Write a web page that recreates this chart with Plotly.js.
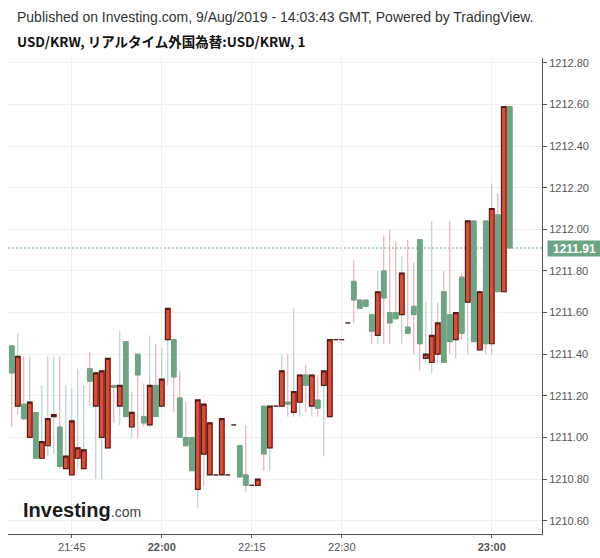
<!DOCTYPE html>
<html>
<head>
<meta charset="utf-8">
<script src="https://cdn.plot.ly/plotly-3.0.1.min.js"></script>
<style>
  html, body { margin: 0; padding: 0; background: #fff; }
  #chart { width: 600px; height: 558px; }
</style>
</head>
<body>
<div id="chart"></div>
<script>
// 1-minute bars (Korea time), minutes without trades are skipped like TradingView
const times = [
  '21:35','21:36','21:37','21:38','21:39','21:40','21:41','21:42','21:43','21:44',
  '21:45','21:46','21:47','21:48','21:49','21:50','21:51','21:52','21:53','21:54',
  '21:55','21:56','21:57','21:58','21:59','22:00','22:01','22:02','22:03','22:04',
  '22:05','22:06','22:07','22:08','22:09','22:10','22:11','22:12','22:13','22:14',
  '22:15','22:16','22:17','22:18','22:19','22:20','22:21','22:22','22:23','22:24',
  '22:25','22:26','22:27','22:28','22:29','22:30','22:31','22:32','22:34','22:35',
  '22:37','22:38','22:39','22:41','22:42','22:43','22:45','22:46','22:48','22:49',
  '22:50','22:51','22:52','22:53','22:54','22:55','22:56','22:57','22:58','22:59',
  '23:00','23:01','23:02','23:03'
];
const opens = [
  1211.44,1211.15,1211.16,1211.00,1211.12,1210.90,1210.96,1211.10,1211.05,1210.85,
  1210.82,1210.90,1210.85,1211.33,1211.15,1211.00,1210.95,1211.25,1211.15,1211.46,
  1211.05,1211.40,1211.10,1211.06,1211.25,1211.15,1211.47,1211.47,1211.19,1211.00,
  1211.00,1210.75,1210.92,1210.82,1210.82,1210.82,1210.82,1211.06,1210.96,1210.82,
  1210.77,1210.77,1211.15,1210.95,1211.15,1211.15,1211.17,1211.12,1211.17,1211.30,
  1211.15,1211.18,1211.25,1211.10,1211.47,1211.47,1211.55,1211.75,1211.66,1211.66,
  1211.59,1211.49,1211.80,1211.60,1211.60,1211.59,1211.53,1211.63,1211.95,1211.38,
  1211.36,1211.40,1211.70,1211.59,1211.47,1211.77,1211.65,1212.04,1211.42,1212.04,
  1211.45,1212.07,1211.70,1212.59
];
const highs = [
  1211.44,1211.50,1211.39,1211.39,1211.12,1211.25,1211.39,1211.39,1211.39,1211.25,
  1211.24,1211.33,1211.25,1211.41,1211.31,1211.32,1211.38,1211.25,1211.51,1211.46,
  1211.22,1211.40,1211.26,1211.49,1211.45,1211.43,1211.62,1211.47,1211.32,1211.17,
  1211.00,1211.18,1211.16,1211.07,1210.82,1211.09,1210.82,1211.06,1210.96,1211.06,
  1210.77,1210.80,1211.15,1211.15,1211.15,1211.40,1211.40,1211.62,1211.30,1211.35,
  1211.30,1211.30,1211.32,1211.47,1211.47,1211.47,1211.55,1211.85,1211.66,1211.66,
  1211.59,1211.80,1211.97,1212.00,1211.94,1211.87,1211.95,1211.84,1211.95,1211.65,
  1212.04,1211.65,1211.80,1212.04,1211.60,1211.79,1212.04,1212.04,1211.71,1212.04,
  1212.22,1212.17,1212.59,1212.59
];
const lows = [
  1211.05,1211.11,1211.08,1211.00,1210.90,1210.90,1210.91,1210.92,1210.85,1210.85,
  1210.82,1210.85,1210.85,1211.15,1210.80,1210.80,1210.95,1211.07,1211.06,1211.10,
  1211.00,1211.00,1211.05,1211.05,1211.10,1211.15,1211.25,1211.12,1211.00,1210.96,
  1210.84,1210.66,1210.77,1210.82,1210.82,1210.82,1210.82,1211.06,1210.81,1210.74,
  1210.77,1210.77,1210.84,1210.84,1211.15,1211.15,1211.10,1211.10,1211.10,1211.12,
  1211.10,1211.10,1210.91,1211.10,1211.47,1211.47,1211.55,1211.55,1211.62,1211.63,
  1211.45,1211.45,1211.45,1211.45,1211.57,1211.45,1211.50,1211.40,1211.32,1211.35,
  1211.31,1211.36,1211.36,1211.40,1211.38,1211.47,1211.40,1211.46,1211.42,1211.40,
  1211.40,1211.70,1211.70,1211.91
];
const closes = [
  1211.31,1211.39,1211.09,1211.17,1210.90,1210.98,1211.09,1211.11,1210.86,1210.91,
  1211.08,1210.95,1210.94,1211.27,1211.31,1211.32,1211.38,1211.24,1211.25,1211.10,
  1211.12,1211.30,1211.07,1211.25,1211.10,1211.28,1211.62,1211.29,1211.00,1210.96,
  1210.84,1211.18,1211.16,1211.07,1210.82,1211.09,1210.82,1211.06,1210.81,1210.77,
  1210.77,1210.80,1210.92,1211.15,1211.15,1211.32,1211.16,1211.22,1211.30,1211.25,
  1211.30,1211.14,1211.32,1211.47,1211.47,1211.47,1211.55,1211.66,1211.62,1211.63,
  1211.51,1211.70,1211.67,1211.55,1211.57,1211.79,1211.50,1211.59,1211.45,1211.40,
  1211.49,1211.55,1211.36,1211.46,1211.60,1211.50,1212.04,1211.46,1211.70,1211.45,
  1212.10,1211.70,1212.59,1211.91
];
const tickLabels = ['21:45','22:00','22:15','22:30','23:00'];
const boldTicks = ['22:00','23:00'];

const RED_FILL = '#dc4c37', RED_LINE = '#5c1a12', RED_WICK = '#a9c8cb';
const GREEN_FILL = '#6ba583', GREEN_WICK = '#e9a3ac';

const up = closes.map((c, i) => c >= opens[i]);
function pick(arr, want) { return arr.filter((_, i) => up[i] === want); }

function wickTrace(want, color) {
  const st = {line: {color: color, width: 1}, fillcolor: 'rgba(0,0,0,0)'};
  return {
    type: 'candlestick', x: pick(times, want),
    open: pick(opens, want), high: pick(highs, want),
    low: pick(lows, want), close: pick(closes, want),
    increasing: st, decreasing: st, whiskerwidth: 0,
    hoverinfo: 'skip', showlegend: false
  };
}
function bodyTrace(want, fill, line, lw) {
  const o = pick(opens, want), c = pick(closes, want);
  const st = {line: {color: line, width: lw}, fillcolor: fill};
  return {
    type: 'candlestick', x: pick(times, want),
    open: o, close: c,
    high: o.map((v, i) => Math.max(v, c[i])),
    low: o.map((v, i) => Math.min(v, c[i])),
    increasing: st, decreasing: st, whiskerwidth: 0,
    hoverinfo: 'skip', showlegend: false
  };
}

const data = [
  wickTrace(true, RED_WICK),
  wickTrace(false, GREEN_WICK),
  bodyTrace(false, GREEN_FILL, GREEN_FILL, 1),
  bodyTrace(true, RED_FILL, RED_LINE, 1.2)
];

const last = closes[closes.length - 1];
const FONT = 'Liberation Sans, Arial, sans-serif';

const layout = {
  width: 600, height: 558,
  margin: {l: 8, r: 58, t: 58, b: 24, pad: 0},
  paper_bgcolor: '#ffffff', plot_bgcolor: '#ffffff',
  showlegend: false, hovermode: false,
  boxgap: 0.22, boxgroupgap: 0,
  font: {family: FONT, size: 11, color: '#555'},
  xaxis: {
    type: 'category', categoryorder: 'array', categoryarray: times,
    range: [-0.63, 88.37],
    rangeslider: {visible: false},
    tickvals: tickLabels,
    ticktext: tickLabels.map(t => boldTicks.includes(t) ? '<b>' + t + '</b>' : t),
    showgrid: true, gridcolor: '#f0f0f0', gridwidth: 1,
    showline: true, linecolor: '#555', linewidth: 1,
    ticks: 'outside', ticklen: 3, tickcolor: '#555',
    tickfont: {family: FONT, size: 11, color: '#555'},
    zeroline: false, fixedrange: true
  },
  yaxis: {
    side: 'right', range: [1210.536, 1212.823],
    tick0: 1210.6, dtick: 0.2, tickformat: '.2f',
    showgrid: true, gridcolor: '#f0f0f0', gridwidth: 1,
    showline: true, linecolor: '#555', linewidth: 1,
    ticks: 'outside', ticklen: 4, tickcolor: '#555',
    tickfont: {family: FONT, size: 11, color: '#555'},
    zeroline: false, fixedrange: true
  },
  shapes: [{
    type: 'line', xref: 'paper', x0: 0, x1: 1, yref: 'y', y0: last, y1: last,
    line: {color: GREEN_FILL, width: 1, dash: '2px,2px'}, layer: 'below'
  }],
  annotations: [
    {
      xref: 'paper', yref: 'paper', x: 0.0131, y: 1.086, xanchor: 'left', yanchor: 'middle',
      text: 'Published on Investing.com, 9/Aug/2019 - 14:03:43 GMT, Powered by TradingView.',
      showarrow: false, font: {family: FONT, size: 14, color: '#333'}
    },
    {
      xref: 'paper', yref: 'paper', x: 0.0131, y: 1.0357, xanchor: 'left', yanchor: 'middle',
      text: '<b>USD/KRW, リアルタイム外国為替:USD/KRW, 1</b>',
      showarrow: false, font: {family: 'Noto Sans CJK JP, Noto Sans, sans-serif', size: 13.5, color: '#111'}
    },
    {
      xref: 'paper', yref: 'y', x: 1, y: last, xanchor: 'left', yanchor: 'middle',
      xshift: 5, text: '<b>' + last.toFixed(2) + '</b>', showarrow: false,
      bgcolor: GREEN_FILL, borderpad: 2, width: 49, height: 11,
      font: {family: FONT, size: 12, color: '#ffffff'}
    },
    {
      xref: 'paper', yref: 'paper', x: 0.0243, y: 0.05, xanchor: 'left', yanchor: 'middle',
      text: '<b>Investing</b><span style="font-size:14px;color:#444">.com</span>',
      showarrow: false, font: {family: FONT, size: 20, color: '#1a1a1a'}
    }
  ]
};

Plotly.newPlot('chart', data, layout, {displayModeBar: false, staticPlot: true});
</script>
</body>
</html>
